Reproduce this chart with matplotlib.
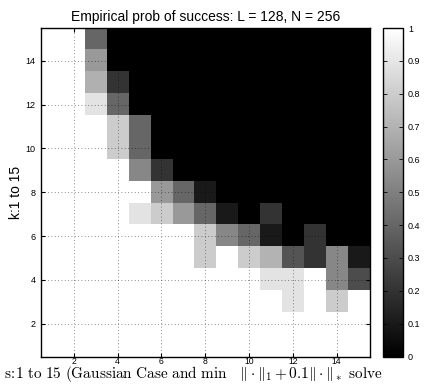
import numpy as np
import matplotlib.pyplot as plt

plt.rcParams['font.family'] = ['Liberation Sans', 'DejaVu Sans']
plt.rcParams['mathtext.fontset'] = 'cm'

s_vals = list(range(1, 16))
k_vals = list(range(1, 16))

# success rate, one row per k (k=1 first), columns s=1..15
k1 = [1, 1, 1, 1, 1, 1, 1, 1, 1, 1, 1, 1, 1, 1, 1]
k2 = [1, 1, 1, 1, 1, 1, 1, 1, 1, 1, 1, 1, 1, 1, 1]
k3 = [1, 1, 1, 1, 1, 1, 1, 1, 1, 1, 1, 0.89, 1, 0.8, 1]
k4 = [1, 1, 1, 1, 1, 1, 1, 1, 1, 1, 0.89, 0.89, 1, 0.53, 0.3]
k5 = [1, 1, 1, 1, 1, 1, 1, 0.8, 1, 0.8, 0.7, 0.33, 0.2, 0.53, 0.1]
k6 = [1, 1, 1, 1, 1, 1, 1, 0.8, 0.53, 0.4, 0.1, 0, 0.2, 0, 0]
k7 = [1, 1, 1, 1, 0.89, 0.8, 0.6, 0.4, 0.1, 0, 0.2, 0, 0, 0, 0]
k8 = [1, 1, 1, 1, 1, 0.6, 0.4, 0.1, 0, 0, 0, 0, 0, 0, 0]
k9 = [1, 1, 1, 1, 0.53, 0.2, 0, 0, 0, 0, 0, 0, 0, 0, 0]
k10 = [1, 1, 1, 0.8, 0.4, 0, 0, 0, 0, 0, 0, 0, 0, 0, 0]
k11 = [1, 1, 1, 0.8, 0.4, 0, 0, 0, 0, 0, 0, 0, 0, 0, 0]
k12 = [1, 1, 0.89, 0.4, 0, 0, 0, 0, 0, 0, 0, 0, 0, 0, 0]
k13 = [1, 1, 0.69, 0.2, 0, 0, 0, 0, 0, 0, 0, 0, 0, 0, 0]
k14 = [1, 1, 0.6, 0, 0, 0, 0, 0, 0, 0, 0, 0, 0, 0, 0]
k15 = [1, 1, 0.4, 0, 0, 0, 0, 0, 0, 0, 0, 0, 0, 0, 0]

prob = np.array([k1, k2, k3, k4, k5, k6, k7, k8, k9, k10, k11, k12, k13, k14, k15])

W, H = 424, 385
fig = plt.figure(figsize=(W / 100, H / 100), dpi=100)
ax = fig.add_axes([41 / W, (H - 356.5) / H, 328.5 / W, 328.5 / H])
cax = fig.add_axes([383 / W, (H - 356.5) / H, 20 / W, 328.5 / H])

im = ax.imshow(prob, cmap='gray', vmin=0, vmax=1, origin='lower', aspect='auto',
               interpolation='nearest',
               extent=[s_vals[0] - 0.5, s_vals[-1] + 0.5, k_vals[0] - 0.5, k_vals[-1] + 0.5])

ax.set_xticks(range(2, 16, 2))
ax.set_yticks(range(2, 16, 2))
ax.tick_params(direction='in', labelsize=6.5, length=3, width=0.8, top=True, right=True)
ax.tick_params(axis='x', pad=0.5, labelsize=6.2)
ax.tick_params(axis='y', pad=4)
ax.set_axisbelow(False)
ax.grid(True, linestyle=(0, (1, 3)), color='k', linewidth=0.6, alpha=0.6)
for sp in ax.spines.values():
    sp.set_linewidth(1.0)

ax.set_title('Empirical prob of success: L = 128, N = 256', fontsize=10, pad=5)
ax.set_ylabel('k:1 to 15', fontsize=10, labelpad=2)
fig.text(4 / W, 1 - 384 / H,
         r'$\mathrm{s\!:\!1\ to\ 15\ (Gaussian\ Case\ and\ min}\quad\|\cdot\|_1+0.1\|\cdot\|_*\ \mathrm{solve}$',
         fontsize=11, ha='left', va='bottom')

cb = fig.colorbar(im, cax=cax, ticks=np.arange(0, 1.01, 0.1))
cb.ax.set_yticklabels(['0', '0.1', '0.2', '0.3', '0.4', '0.5', '0.6', '0.7', '0.8', '0.9', '1'])
cb.ax.tick_params(direction='in', labelsize=6.5, length=3, width=0.6, left=True, right=True)
cb.outline.set_linewidth(1.0)

fig.savefig('out.png', dpi=100)
